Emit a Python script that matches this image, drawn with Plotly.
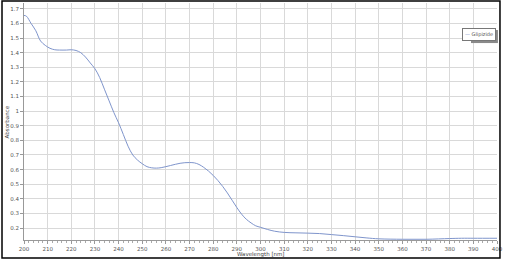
import plotly.graph_objects as go

wavelength = [200, 201, 203, 205, 207, 209, 211, 213, 215, 218, 220, 222, 224, 226, 228,
              230, 232, 234, 236, 238, 240, 242, 244, 246, 248, 250, 252, 254, 256, 258,
              260, 262, 264, 266, 268, 270, 272, 274, 276, 278, 280, 282, 284, 286, 288,
              290, 292, 294, 296, 298, 300, 303, 306, 310, 315, 320, 325, 330, 335, 340,
              345, 350, 360, 370, 380, 385, 390, 400]
absorbance = [1.655, 1.65, 1.60, 1.55, 1.48, 1.45, 1.43, 1.42, 1.418, 1.418, 1.42, 1.415,
              1.40, 1.37, 1.33, 1.29, 1.23, 1.15, 1.07, 0.99, 0.92, 0.84, 0.76, 0.70,
              0.665, 0.64, 0.62, 0.612, 0.61, 0.613, 0.62, 0.628, 0.636, 0.643, 0.647,
              0.648, 0.646, 0.635, 0.615, 0.59, 0.56, 0.525, 0.485, 0.44, 0.39, 0.34,
              0.295, 0.26, 0.235, 0.215, 0.205, 0.19, 0.178, 0.17, 0.167, 0.165, 0.162,
              0.155, 0.148, 0.14, 0.132, 0.126, 0.123, 0.123, 0.128, 0.13, 0.13, 0.13]
series_name = "Glipizide"
x_ticks = list(range(200, 401, 10))
y_ticks = [round(0.2 + 0.1 * i, 1) for i in range(16)]
y_labels = [("%g" % v) for v in y_ticks]

line_color = "#7f95cc"
fig = go.Figure()
fig.add_trace(go.Scatter(x=wavelength, y=absorbance, mode="lines", name=series_name,
                         line=dict(color=line_color, width=1), line_shape="spline",
                         showlegend=False))

font = dict(family="DejaVu Sans", size=5.5, color="#555555")
fig.update_layout(
    width=505, height=263,
    margin=dict(l=24, r=8, t=3, b=23, autoexpand=False),
    paper_bgcolor="white", plot_bgcolor="white",
    font=font,
    showlegend=False,
    xaxis=dict(range=[200, 400], tickvals=x_ticks, ticktext=[str(v) for v in x_ticks],
               showgrid=True, gridcolor="#d9d9d9", gridwidth=1,
               showline=True, linecolor="#999999", linewidth=1,
               ticks="outside", ticklen=3, tickcolor="#999999",
               minor=dict(dtick=2, ticks="outside", ticklen=2, tickcolor="#aaaaaa", showgrid=False),
               zeroline=False, tickfont=font, automargin=False),
    yaxis=dict(range=[0.118, 1.74], tickvals=y_ticks, ticktext=y_labels,
               showgrid=True, gridcolor="#d9d9d9", gridwidth=1,
               showline=True, linecolor="#999999", linewidth=1,
               ticks="outside", ticklen=3, tickcolor="#999999",
               zeroline=False, tickfont=font, automargin=False),
    shapes=[
        dict(type="rect", xref="paper", yref="paper",
             x0=0.945, x1=1.002, y0=0.831, y1=0.886,
             fillcolor="#8a8a8a", line=dict(width=0), layer="above"),
        dict(type="rect", xref="paper", yref="paper",
             x0=-0.0465, x1=1.0063, y0=-0.076, y1=1.0084,
             line=dict(color="black", width=1.5), layer="above"),
    ],
    annotations=[
        dict(text="Wavelength [nm]", xref="paper", yref="paper", x=0.5, y=-0.063,
             xanchor="center", yanchor="middle", showarrow=False,
             font=dict(family="DejaVu Sans", size=5.5, color="#444444")),
        dict(text="Absorbance", xref="paper", yref="paper", x=-0.036, y=0.5,
             xanchor="center", yanchor="middle", showarrow=False, textangle=-90,
             font=dict(family="DejaVu Sans", size=5.5, color="#444444")),
        dict(text="<span style='color:%s'>—</span> %s" % (line_color, series_name),
             xref="paper", yref="paper", x=0.998, y=0.894,
             xanchor="right", yanchor="top", showarrow=False,
             bgcolor="white", bordercolor="#777777", borderwidth=1, borderpad=2,
             font=dict(family="DejaVu Sans", size=5, color="#555555")),
    ],
)

fig.write_html("out.html")
